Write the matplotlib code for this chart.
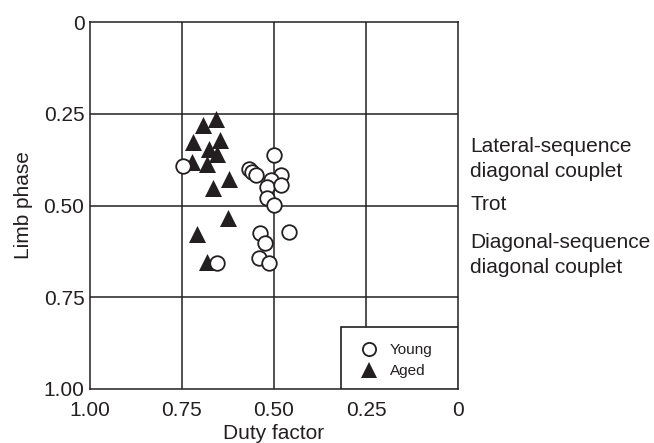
import matplotlib.pyplot as plt
from matplotlib.patches import Rectangle
from matplotlib.lines import Line2D
import matplotlib.transforms as mtransforms

plt.rcParams['font.family'] = ['Liberation Sans', 'DejaVu Sans']

# -----------------------------
# Data
# -----------------------------
young_x = [0.748, 0.500, 0.568, 0.561, 0.550, 0.481, 0.508, 0.520, 0.481,
           0.520, 0.500, 0.539, 0.525, 0.459, 0.541, 0.514, 0.654]
young_y = [0.391, 0.362, 0.401, 0.408, 0.417, 0.417, 0.430, 0.449, 0.444,
           0.480, 0.499, 0.576, 0.603, 0.572, 0.642, 0.656, 0.656]

aged_x = [0.658, 0.694, 0.719, 0.647, 0.676, 0.656, 0.724, 0.683, 0.622,
          0.665, 0.625, 0.708, 0.683]
aged_y = [0.264, 0.280, 0.328, 0.322, 0.346, 0.361, 0.382, 0.386, 0.428,
          0.452, 0.534, 0.579, 0.654]

ticks = [0, 0.25, 0.50, 0.75, 1.00]
tick_labels = ['0', '0.25', '0.50', '0.75', '1.00']

gait_labels = ['Lateral-sequence\ndiagonal couplet', 'Trot',
               'Diagonal-sequence\ndiagonal couplet']
gait_y = [0.373, 0.497, 0.635]

ink = '#231f20'

# -----------------------------
# Plot
# -----------------------------
fig = plt.figure(figsize=(6.54, 4.43), dpi=100)
ax = fig.add_axes([0.1376, 0.1219, 0.5627, 0.8284])

ax.set_xlim(1.0, 0.0)
ax.set_ylim(1.0, 0.0)
ax.set_xticks(ticks)
ax.set_xticklabels(tick_labels)
ax.set_yticks(ticks)
ax.set_yticklabels(tick_labels)
ax.tick_params(axis='both', length=0, labelsize=15, colors=ink)
ax.tick_params(axis='x', pad=9)
ax.tick_params(axis='y', pad=4)

for v in [0.25, 0.50, 0.75]:
    ax.axvline(v, color=ink, lw=1.1, zorder=1)
    ax.axhline(v, color=ink, lw=1.1, zorder=1)

for s in ax.spines.values():
    s.set_color(ink)
    s.set_linewidth(1.1)

ax.scatter(aged_x, aged_y, marker='^', s=150, color=ink, linewidths=0, zorder=3)
ax.scatter(young_x, young_y, marker='o', s=110, facecolor='white',
           edgecolor=ink, linewidths=1.3, zorder=4)

ax.set_xlabel('Duty factor', fontsize=15, color=ink)
ax.set_ylabel('Limb phase', fontsize=15, color=ink)
ax.xaxis.set_label_coords(0.5, -0.095)
ax.yaxis.set_label_coords(-0.155, 0.5)

# annotations on the right
trans = mtransforms.blended_transform_factory(ax.transAxes, ax.transData)
for lab, yy in zip(gait_labels, gait_y):
    ax.text(1.033, yy, lab, transform=trans, ha='left', va='center',
            fontsize=15, color=ink, linespacing=1.38, clip_on=False)

# legend box in lower right corner
ax.add_patch(Rectangle((0.682, 0.0), 0.318, 0.169, transform=ax.transAxes,
                       facecolor='white', edgecolor=ink, lw=1.2, zorder=5))
handles = [
    Line2D([], [], marker='o', ls='', ms=9.5, mfc='white', mec=ink, mew=1.3),
    Line2D([], [], marker='^', ls='', ms=12, mfc=ink, mec=ink, mew=0),
]
leg = ax.legend(handles, ['Young', 'Aged'], loc='upper left',
                bbox_to_anchor=(0.682, 0.169), frameon=False, fontsize=11,
                borderpad=1.05, handlelength=1.6, handletextpad=0.55,
                labelspacing=0.45, borderaxespad=0)
for t in leg.get_texts():
    t.set_color(ink)
leg.set_zorder(6)

plt.savefig('out.png', dpi=100)
